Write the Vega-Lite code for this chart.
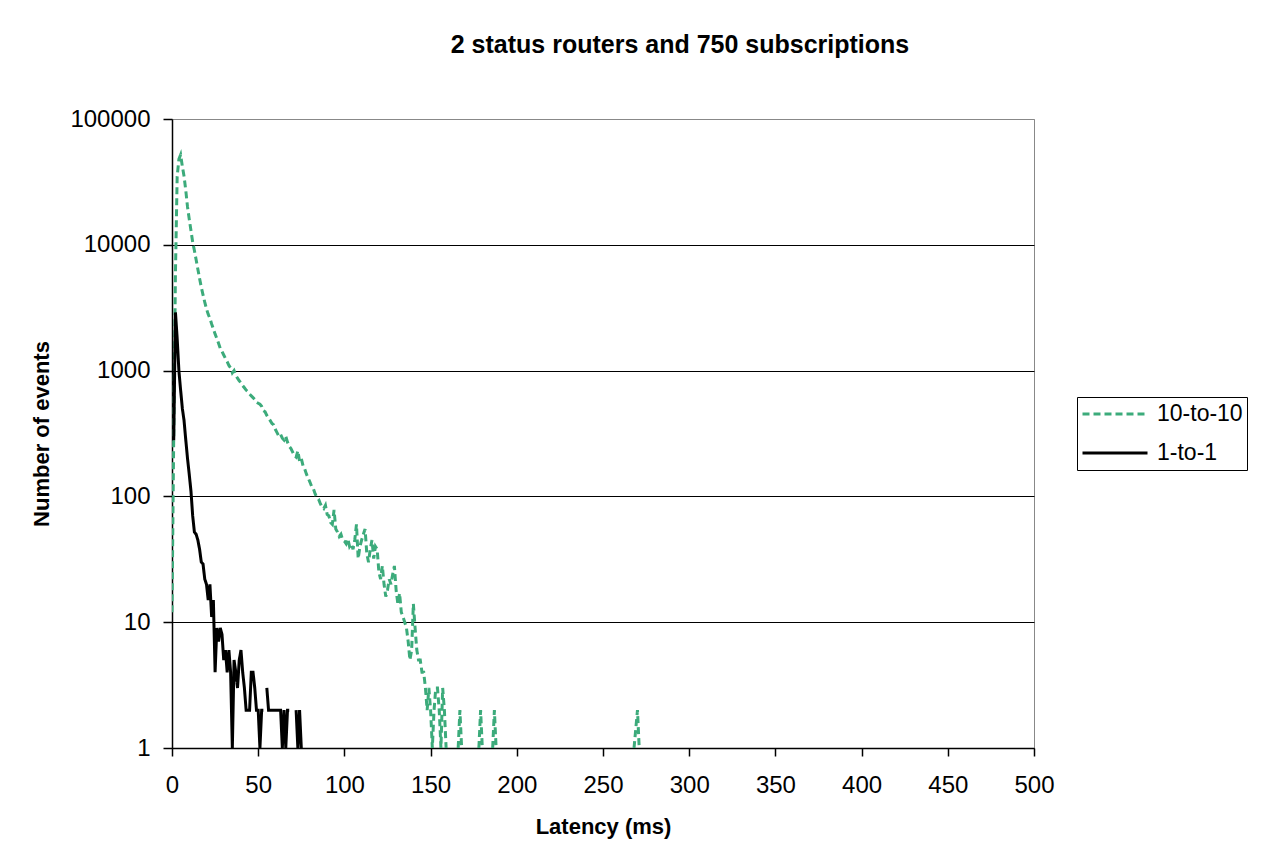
{
  "$schema": "https://vega.github.io/schema/vega-lite/v6.json",
  "width": 862,
  "height": 629,
  "autosize": {"type": "none"},
  "padding": {"left": 172, "top": 119, "right": 233, "bottom": 111},
  "background": "white",
  "title": {
    "text": "2 status routers and 750 subscriptions",
    "font": "Liberation Sans",
    "fontSize": 25,
    "fontWeight": "bold",
    "color": "black",
    "anchor": "middle",
    "frame": "group",
    "dx": 77,
    "baseline": "alphabetic",
    "offset": 29
  },
  "data": {
    "values": [
      {"series": "10-to-10", "latency": 0, "events": 12}, {"series": "10-to-10", "latency": 1, "events": 300}, {"series": "10-to-10", "latency": 2, "events": 6000}, {"series": "10-to-10", "latency": 3, "events": 35000}, {"series": "10-to-10", "latency": 4, "events": 48000}, {"series": "10-to-10", "latency": 5, "events": 52000}, {"series": "10-to-10", "latency": 6, "events": 42000}, {"series": "10-to-10", "latency": 7, "events": 35000}, {"series": "10-to-10", "latency": 8, "events": 27000}, {"series": "10-to-10", "latency": 9, "events": 20000},
      {"series": "10-to-10", "latency": 10, "events": 16000}, {"series": "10-to-10", "latency": 11, "events": 13000}, {"series": "10-to-10", "latency": 12, "events": 10500}, {"series": "10-to-10", "latency": 13, "events": 9000}, {"series": "10-to-10", "latency": 14, "events": 7600}, {"series": "10-to-10", "latency": 15, "events": 6400}, {"series": "10-to-10", "latency": 16, "events": 5400}, {"series": "10-to-10", "latency": 17, "events": 4600}, {"series": "10-to-10", "latency": 18, "events": 4000}, {"series": "10-to-10", "latency": 19, "events": 3500},
      {"series": "10-to-10", "latency": 20, "events": 3100}, {"series": "10-to-10", "latency": 21, "events": 2800}, {"series": "10-to-10", "latency": 22, "events": 2600}, {"series": "10-to-10", "latency": 23, "events": 2350}, {"series": "10-to-10", "latency": 24, "events": 2150}, {"series": "10-to-10", "latency": 25, "events": 1950}, {"series": "10-to-10", "latency": 26, "events": 1800}, {"series": "10-to-10", "latency": 27, "events": 1650}, {"series": "10-to-10", "latency": 28, "events": 1500}, {"series": "10-to-10", "latency": 29, "events": 1420},
      {"series": "10-to-10", "latency": 30, "events": 1330}, {"series": "10-to-10", "latency": 31, "events": 1250}, {"series": "10-to-10", "latency": 32, "events": 1180}, {"series": "10-to-10", "latency": 33, "events": 1100}, {"series": "10-to-10", "latency": 34, "events": 1050}, {"series": "10-to-10", "latency": 35, "events": 960}, {"series": "10-to-10", "latency": 36, "events": 1000}, {"series": "10-to-10", "latency": 37, "events": 920}, {"series": "10-to-10", "latency": 38, "events": 870}, {"series": "10-to-10", "latency": 39, "events": 830},
      {"series": "10-to-10", "latency": 40, "events": 800}, {"series": "10-to-10", "latency": 41, "events": 760}, {"series": "10-to-10", "latency": 42, "events": 730}, {"series": "10-to-10", "latency": 43, "events": 700}, {"series": "10-to-10", "latency": 44, "events": 680}, {"series": "10-to-10", "latency": 45, "events": 650}, {"series": "10-to-10", "latency": 46, "events": 630}, {"series": "10-to-10", "latency": 47, "events": 610}, {"series": "10-to-10", "latency": 48, "events": 590}, {"series": "10-to-10", "latency": 49, "events": 560},
      {"series": "10-to-10", "latency": 50, "events": 550}, {"series": "10-to-10", "latency": 51, "events": 540}, {"series": "10-to-10", "latency": 52, "events": 520}, {"series": "10-to-10", "latency": 53, "events": 480}, {"series": "10-to-10", "latency": 54, "events": 470}, {"series": "10-to-10", "latency": 55, "events": 440}, {"series": "10-to-10", "latency": 56, "events": 420}, {"series": "10-to-10", "latency": 57, "events": 400}, {"series": "10-to-10", "latency": 58, "events": 380}, {"series": "10-to-10", "latency": 59, "events": 370},
      {"series": "10-to-10", "latency": 60, "events": 340}, {"series": "10-to-10", "latency": 61, "events": 320}, {"series": "10-to-10", "latency": 62, "events": 300}, {"series": "10-to-10", "latency": 63, "events": 310}, {"series": "10-to-10", "latency": 64, "events": 290}, {"series": "10-to-10", "latency": 65, "events": 280}, {"series": "10-to-10", "latency": 66, "events": 300}, {"series": "10-to-10", "latency": 67, "events": 270}, {"series": "10-to-10", "latency": 68, "events": 250}, {"series": "10-to-10", "latency": 69, "events": 240},
      {"series": "10-to-10", "latency": 70, "events": 225}, {"series": "10-to-10", "latency": 71, "events": 210}, {"series": "10-to-10", "latency": 72, "events": 205}, {"series": "10-to-10", "latency": 73, "events": 230}, {"series": "10-to-10", "latency": 74, "events": 190}, {"series": "10-to-10", "latency": 75, "events": 200}, {"series": "10-to-10", "latency": 76, "events": 175}, {"series": "10-to-10", "latency": 77, "events": 165}, {"series": "10-to-10", "latency": 78, "events": 150}, {"series": "10-to-10", "latency": 79, "events": 140},
      {"series": "10-to-10", "latency": 80, "events": 130}, {"series": "10-to-10", "latency": 81, "events": 120}, {"series": "10-to-10", "latency": 82, "events": 115}, {"series": "10-to-10", "latency": 83, "events": 105}, {"series": "10-to-10", "latency": 84, "events": 98}, {"series": "10-to-10", "latency": 85, "events": 95}, {"series": "10-to-10", "latency": 86, "events": 88}, {"series": "10-to-10", "latency": 87, "events": 82}, {"series": "10-to-10", "latency": 88, "events": 80}, {"series": "10-to-10", "latency": 89, "events": 85},
      {"series": "10-to-10", "latency": 90, "events": 72}, {"series": "10-to-10", "latency": 91, "events": 70}, {"series": "10-to-10", "latency": 92, "events": 62}, {"series": "10-to-10", "latency": 93, "events": 60}, {"series": "10-to-10", "latency": 94, "events": 78}, {"series": "10-to-10", "latency": 95, "events": 55}, {"series": "10-to-10", "latency": 96, "events": 52}, {"series": "10-to-10", "latency": 97, "events": 48}, {"series": "10-to-10", "latency": 98, "events": 50}, {"series": "10-to-10", "latency": 99, "events": 45},
      {"series": "10-to-10", "latency": 100, "events": 44}, {"series": "10-to-10", "latency": 101, "events": 42}, {"series": "10-to-10", "latency": 102, "events": 46}, {"series": "10-to-10", "latency": 103, "events": 40}, {"series": "10-to-10", "latency": 104, "events": 42}, {"series": "10-to-10", "latency": 105, "events": 38}, {"series": "10-to-10", "latency": 106, "events": 45}, {"series": "10-to-10", "latency": 107, "events": 60}, {"series": "10-to-10", "latency": 108, "events": 32}, {"series": "10-to-10", "latency": 109, "events": 40},
      {"series": "10-to-10", "latency": 110, "events": 45}, {"series": "10-to-10", "latency": 111, "events": 50}, {"series": "10-to-10", "latency": 112, "events": 55}, {"series": "10-to-10", "latency": 113, "events": 35}, {"series": "10-to-10", "latency": 114, "events": 30}, {"series": "10-to-10", "latency": 115, "events": 38}, {"series": "10-to-10", "latency": 116, "events": 45}, {"series": "10-to-10", "latency": 117, "events": 32}, {"series": "10-to-10", "latency": 118, "events": 40}, {"series": "10-to-10", "latency": 119, "events": 38},
      {"series": "10-to-10", "latency": 120, "events": 25}, {"series": "10-to-10", "latency": 121, "events": 22}, {"series": "10-to-10", "latency": 122, "events": 28}, {"series": "10-to-10", "latency": 123, "events": 20}, {"series": "10-to-10", "latency": 124, "events": 16}, {"series": "10-to-10", "latency": 125, "events": 18}, {"series": "10-to-10", "latency": 126, "events": 22}, {"series": "10-to-10", "latency": 127, "events": 20}, {"series": "10-to-10", "latency": 128, "events": 24}, {"series": "10-to-10", "latency": 129, "events": 28},
      {"series": "10-to-10", "latency": 130, "events": 18}, {"series": "10-to-10", "latency": 131, "events": 14}, {"series": "10-to-10", "latency": 132, "events": 17}, {"series": "10-to-10", "latency": 133, "events": 12}, {"series": "10-to-10", "latency": 134, "events": 11}, {"series": "10-to-10", "latency": 135, "events": 10}, {"series": "10-to-10", "latency": 136, "events": 9}, {"series": "10-to-10", "latency": 137, "events": 7}, {"series": "10-to-10", "latency": 138, "events": 5}, {"series": "10-to-10", "latency": 139, "events": 6},
      {"series": "10-to-10", "latency": 140, "events": 14}, {"series": "10-to-10", "latency": 141, "events": 9}, {"series": "10-to-10", "latency": 142, "events": 6}, {"series": "10-to-10", "latency": 143, "events": 5}, {"series": "10-to-10", "latency": 144, "events": 5}, {"series": "10-to-10", "latency": 145, "events": 4}, {"series": "10-to-10", "latency": 146, "events": 4}, {"series": "10-to-10", "latency": 147, "events": 3}, {"series": "10-to-10", "latency": 148, "events": 2}, {"series": "10-to-10", "latency": 149, "events": 3},
      {"series": "10-to-10", "latency": 150, "events": 2}, {"series": "10-to-10", "latency": 151, "events": 1}, {"series": "10-to-10", "latency": 152, "events": 2}, {"series": "10-to-10", "latency": 153, "events": 3}, {"series": "10-to-10", "latency": 154, "events": 3}, {"series": "10-to-10", "latency": 155, "events": 2}, {"series": "10-to-10", "latency": 156, "events": 1}, {"series": "10-to-10", "latency": 157, "events": 3}, {"series": "10-to-10", "latency": 158, "events": 2}, {"series": "10-to-10", "latency": 159, "events": 1},
      {"series": "10-to-10", "latency": 160, "events": null}, {"series": "10-to-10", "latency": 166, "events": 1}, {"series": "10-to-10", "latency": 167, "events": 2}, {"series": "10-to-10", "latency": 168, "events": 1}, {"series": "10-to-10", "latency": 169, "events": null}, {"series": "10-to-10", "latency": 178, "events": 1}, {"series": "10-to-10", "latency": 179, "events": 2}, {"series": "10-to-10", "latency": 180, "events": 1}, {"series": "10-to-10", "latency": 181, "events": null},
      {"series": "10-to-10", "latency": 186, "events": 1}, {"series": "10-to-10", "latency": 187, "events": 2}, {"series": "10-to-10", "latency": 188, "events": 1}, {"series": "10-to-10", "latency": 189, "events": null}, {"series": "10-to-10", "latency": 268, "events": 1}, {"series": "10-to-10", "latency": 270, "events": 2}, {"series": "10-to-10", "latency": 271, "events": 1},

      {"series": "1-to-1", "latency": 1, "events": 280}, {"series": "1-to-1", "latency": 2, "events": 2900}, {"series": "1-to-1", "latency": 3, "events": 1800}, {"series": "1-to-1", "latency": 4, "events": 1000}, {"series": "1-to-1", "latency": 5, "events": 700}, {"series": "1-to-1", "latency": 6, "events": 500}, {"series": "1-to-1", "latency": 7, "events": 400}, {"series": "1-to-1", "latency": 8, "events": 280}, {"series": "1-to-1", "latency": 9, "events": 200},
      {"series": "1-to-1", "latency": 10, "events": 150}, {"series": "1-to-1", "latency": 11, "events": 110}, {"series": "1-to-1", "latency": 12, "events": 70}, {"series": "1-to-1", "latency": 13, "events": 52}, {"series": "1-to-1", "latency": 14, "events": 50}, {"series": "1-to-1", "latency": 15, "events": 45}, {"series": "1-to-1", "latency": 16, "events": 38}, {"series": "1-to-1", "latency": 17, "events": 30}, {"series": "1-to-1", "latency": 18, "events": 29}, {"series": "1-to-1", "latency": 19, "events": 22},
      {"series": "1-to-1", "latency": 20, "events": 20}, {"series": "1-to-1", "latency": 21, "events": 15}, {"series": "1-to-1", "latency": 22, "events": 20}, {"series": "1-to-1", "latency": 23, "events": 11}, {"series": "1-to-1", "latency": 24, "events": 15}, {"series": "1-to-1", "latency": 25, "events": 4}, {"series": "1-to-1", "latency": 26, "events": 9}, {"series": "1-to-1", "latency": 27, "events": 7}, {"series": "1-to-1", "latency": 28, "events": 9}, {"series": "1-to-1", "latency": 29, "events": 8},
      {"series": "1-to-1", "latency": 30, "events": 5}, {"series": "1-to-1", "latency": 31, "events": 6}, {"series": "1-to-1", "latency": 32, "events": 4}, {"series": "1-to-1", "latency": 33, "events": 6}, {"series": "1-to-1", "latency": 34, "events": 4}, {"series": "1-to-1", "latency": 35, "events": 1}, {"series": "1-to-1", "latency": 36, "events": 5}, {"series": "1-to-1", "latency": 37, "events": 4}, {"series": "1-to-1", "latency": 38, "events": 3}, {"series": "1-to-1", "latency": 39, "events": 5},
      {"series": "1-to-1", "latency": 40, "events": 6}, {"series": "1-to-1", "latency": 41, "events": 4}, {"series": "1-to-1", "latency": 42, "events": 3}, {"series": "1-to-1", "latency": 43, "events": 2}, {"series": "1-to-1", "latency": 44, "events": 2}, {"series": "1-to-1", "latency": 45, "events": 2}, {"series": "1-to-1", "latency": 46, "events": 4}, {"series": "1-to-1", "latency": 47, "events": 4}, {"series": "1-to-1", "latency": 48, "events": 3}, {"series": "1-to-1", "latency": 49, "events": 2},
      {"series": "1-to-1", "latency": 50, "events": 2}, {"series": "1-to-1", "latency": 51, "events": 1}, {"series": "1-to-1", "latency": 52, "events": 2}, {"series": "1-to-1", "latency": 53, "events": 2}, {"series": "1-to-1", "latency": 54, "events": null}, {"series": "1-to-1", "latency": 55, "events": 3}, {"series": "1-to-1", "latency": 56, "events": 2}, {"series": "1-to-1", "latency": 57, "events": 2}, {"series": "1-to-1", "latency": 58, "events": 2}, {"series": "1-to-1", "latency": 60, "events": 2},
      {"series": "1-to-1", "latency": 61, "events": 2}, {"series": "1-to-1", "latency": 62, "events": 2}, {"series": "1-to-1", "latency": 63, "events": 2}, {"series": "1-to-1", "latency": 64, "events": 1}, {"series": "1-to-1", "latency": 65, "events": 2}, {"series": "1-to-1", "latency": 66, "events": 1}, {"series": "1-to-1", "latency": 67, "events": 2}, {"series": "1-to-1", "latency": 68, "events": 2}, {"series": "1-to-1", "latency": 70, "events": null}, {"series": "1-to-1", "latency": 72, "events": 2},
      {"series": "1-to-1", "latency": 73, "events": 1}, {"series": "1-to-1", "latency": 74, "events": 2}, {"series": "1-to-1", "latency": 75, "events": 1}
    ]
  },
  "mark": {"type": "line", "strokeWidth": 3, "clip": true},
  "encoding": {
    "x": {
      "field": "latency",
      "type": "quantitative",
      "scale": {"domain": [0, 500], "nice": false, "zero": false},
      "axis": {
        "title": "Latency (ms)",
        "values": [0, 50, 100, 150, 200, 250, 300, 350, 400, 450, 500],
        "grid": false,
        "labelFlush": false,
        "tickSize": 8,
        "labelPadding": 17,
        "titlePadding": 19,
        "labelFontSize": 24,
        "titleFontSize": 22
      }
    },
    "y": {
      "field": "events",
      "type": "quantitative",
      "scale": {"type": "log", "domain": [1, 100000], "nice": false},
      "axis": {
        "title": "Number of events",
        "values": [1, 10, 100, 1000, 10000, 100000],
        "format": "d",
        "grid": true,
        "labelFlush": false,
        "gridColor": {"condition": {"test": "datum.value >= 100000", "value": "#888888"}, "value": "black"},
        "tickSize": 9,
        "labelPadding": 13,
        "titlePadding": 16,
        "labelFontSize": 24,
        "titleFontSize": 22
      }
    },
    "color": {
      "field": "series",
      "type": "nominal",
      "scale": {"domain": ["10-to-10", "1-to-1"], "range": ["#3CAB7B", "black"]},
      "legend": {
        "title": null,
        "orient": "none",
        "legendX": 905,
        "legendY": 278,
        "padding": 4,
        "strokeColor": "black",
        "fillColor": "white",
        "symbolType": "stroke",
        "symbolSize": 4225,
        "symbolStrokeWidth": 3,
        "labelFontSize": 23,
        "labelOffset": 8,
        "clipHeight": 26,
        "rowPadding": 13
      }
    },
    "strokeDash": {
      "field": "series",
      "type": "nominal",
      "scale": {"domain": ["10-to-10", "1-to-1"], "range": [[7, 4], [1, 0]]},
      "legend": {
        "title": null,
        "orient": "none",
        "legendX": 905,
        "legendY": 278,
        "padding": 4,
        "strokeColor": "black",
        "fillColor": "white",
        "symbolType": "stroke",
        "symbolSize": 4225,
        "symbolStrokeWidth": 3,
        "labelFontSize": 23,
        "labelOffset": 8,
        "clipHeight": 26,
        "rowPadding": 13
      }
    }
  },
  "config": {
    "font": "Liberation Sans",
    "view": {"stroke": "#888888", "strokeWidth": 1},
    "axis": {
      "domainColor": "black",
      "domainWidth": 1.5,
      "tickColor": "black",
      "tickWidth": 1.5,
      "labelColor": "black",
      "titleColor": "black",
      "labelFont": "Liberation Sans",
      "titleFont": "Liberation Sans",
      "titleFontWeight": "bold",
      "gridWidth": 1
    },
    "legend": {"labelFont": "Liberation Sans", "labelColor": "black", "labelLimit": 0}
  }
}
